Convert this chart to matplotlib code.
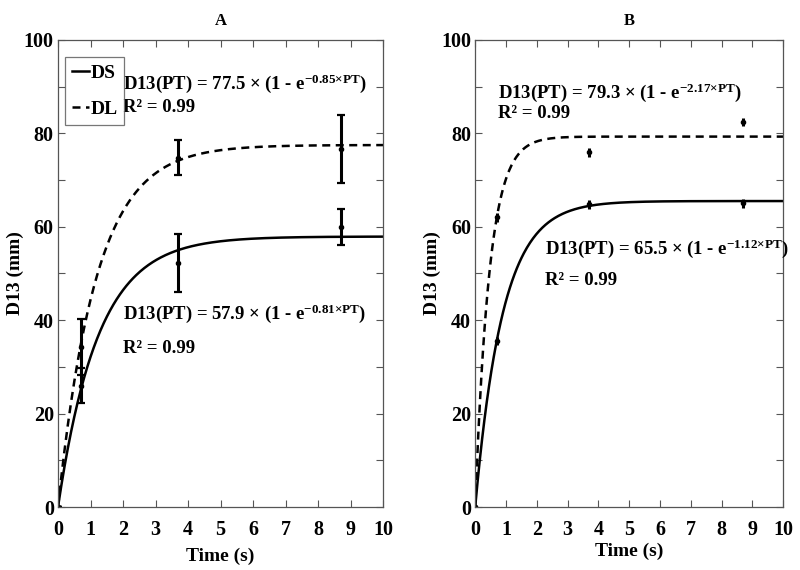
import numpy as np
import matplotlib

matplotlib.use("Agg")
import matplotlib.pyplot as plt

plt.rcParams["font.family"] = ["Liberation Serif", "DejaVu Serif"]
plt.rcParams["font.weight"] = "bold"
plt.rcParams["mathtext.fontset"] = "custom"
plt.rcParams["mathtext.rm"] = "Liberation Serif:bold"
plt.rcParams["mathtext.bf"] = "Liberation Serif:bold"
plt.rcParams["mathtext.it"] = "Liberation Serif:bold"

# measured points (time in s, D13 in mm)
time_pts = [0, 0.7, 3.7, 8.7]

a_ds_mean = [0, 26.0, 52.2, 60.0]
a_ds_err = [0, 3.8, 6.2, 3.9]
a_dl_mean = [0, 34.2, 74.8, 76.7]
a_dl_err = [0, 6.0, 3.8, 7.3]

b_ds_mean = [0, 35.6, 64.8, 65.0]
b_ds_err = [0, 0.9, 0.9, 0.9]
b_dl_mean = [0, 62.0, 75.9, 82.4]
b_dl_err = [0, 0.9, 0.9, 0.9]

# fitted model parameters: D13 = amp * (1 - exp(-rate * t))
a_ds_fit = (57.9, 0.81)
a_dl_fit = (77.5, 0.85)
b_ds_fit = (65.5, 1.12)
b_dl_fit = (79.3, 2.17)

x_ticks = list(range(0, 11))
y_ticks = [0, 20, 40, 60, 80, 100]
y_minor = [10, 30, 50, 70, 90]


def fit_curve(t, params):
    amp, rate = params
    return amp * (1 - np.exp(-rate * t))


def style_axis(ax, title, xlabelpad):
    ax.set_xlim(0, 10)
    ax.set_ylim(0, 100)
    ax.set_xticks(x_ticks)
    ax.set_yticks(y_ticks)
    ax.set_yticks(y_minor, minor=True)
    ax.tick_params(which="both", direction="in", top=True, right=True,
                   length=5, width=0.8, color="#555555", labelsize=14.5)
    ax.tick_params(axis="x", pad=9)
    ax.tick_params(axis="y", pad=3)
    for spine in ax.spines.values():
        spine.set_color("#555555")
        spine.set_linewidth(0.9)
    ax.set_title(title, fontsize=12, fontweight="bold", pad=11)
    ax.set_xlabel("Time (s)", fontsize=14, fontweight="bold", labelpad=xlabelpad)
    ax.set_ylabel("D13 (mm)", fontsize=14, fontweight="bold", labelpad=0)


def draw_panel(ax, ds_mean, ds_err, dl_mean, dl_err, ds_fit, dl_fit, cap):
    t = np.linspace(0, 10, 400)
    ax.plot(t, fit_curve(t, ds_fit), color="black", lw=1.8, label="DS")
    ax.plot(t, fit_curve(t, dl_fit), color="black", lw=1.8, ls=(0, (3.2, 2.2)), label="DL")
    for mean, err in ((ds_mean, ds_err), (dl_mean, dl_err)):
        ax.errorbar(time_pts, mean, yerr=err, fmt="o", color="black", ms=3,
                    elinewidth=2.2, capsize=cap, capthick=1.6)


fig = plt.figure(figsize=(8, 5.7), dpi=100)
ax_a = fig.add_axes([0.0725, 0.1105, 0.4065, 0.8195])
ax_b = fig.add_axes([0.594, 0.1105, 0.385, 0.8195])

draw_panel(ax_a, a_ds_mean, a_ds_err, a_dl_mean, a_dl_err, a_ds_fit, a_dl_fit, 2.8)
draw_panel(ax_b, b_ds_mean, b_ds_err, b_dl_mean, b_dl_err, b_ds_fit, b_dl_fit, 0)
style_axis(ax_a, "A", 6)
style_axis(ax_b, "B", 2)

leg = ax_a.legend(loc="upper left", bbox_to_anchor=(0.0215, 0.9626), borderaxespad=0,
                  fontsize=14, handlelength=0.9, handletextpad=0.05, labelspacing=0.95,
                  borderpad=0.35, fancybox=False, edgecolor="#555555")
leg.get_frame().set_linewidth(0.9)

eq_kw = dict(fontsize=13.5, fontweight="bold", va="center", ha="left")
ax_a.text(2.0, 90.6, r"D13(PT) = 77.5 × (1 - e$^{\mathbf{-0.85×PT}}$)", **eq_kw)
ax_a.text(2.0, 85.6, "R² = 0.99", **eq_kw)
ax_a.text(2.0, 41.4, r"D13(PT) = 57.9 × (1 - e$^{\mathbf{-0.81×PT}}$)", **eq_kw)
ax_a.text(2.0, 34.0, "R² = 0.99", **eq_kw)

ax_b.text(0.75, 88.7, r"D13(PT) = 79.3 × (1 - e$^{\mathbf{-2.17×PT}}$)", **eq_kw)
ax_b.text(0.75, 84.2, "R² = 0.99", **eq_kw)
ax_b.text(2.28, 55.3, r"D13(PT) = 65.5 × (1 - e$^{\mathbf{-1.12×PT}}$)", **eq_kw)
ax_b.text(2.28, 48.4, "R² = 0.99", **eq_kw)

fig.savefig("out.png", dpi=100)
plt.close(fig)
